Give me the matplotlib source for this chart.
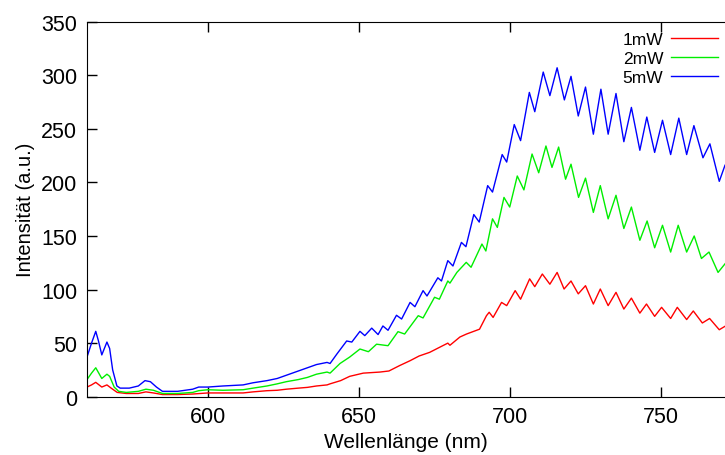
import matplotlib
matplotlib.use("Agg")
import matplotlib.pyplot as plt

plt.rcParams['font.family'] = ['Liberation Sans', 'DejaVu Sans']

# Spektren (Wellenlaenge in nm, Intensitaet in a.u.)
wl_5mw = [560, 561.5, 562.9, 563.8, 564.9, 566.6, 567.5, 568.5, 569.9, 571, 574, 577, 579.2, 581, 583,
          585, 590, 595, 597, 600, 605, 611.7, 615, 619.6, 623, 626, 630, 633, 636, 639.5, 640.5,
          642.8, 646, 647.7, 650.4, 652, 654.3, 656.4, 658, 659.7, 662.5, 664.2, 667, 668.6, 671.3,
          672.6, 676.2, 677.4, 679.5, 681.2, 684, 685.5, 688.1, 689.9, 692.7, 694.3, 697.5, 699,
          701.5, 703.6, 706.5, 708.3, 711.1, 713.3, 715.7, 718.1, 720.3, 722.7, 725.1, 727.7, 730.2,
          732.6, 735.2, 737.8, 740.3, 743.1, 745.4, 748, 750.6, 753.3, 756, 758.6, 761, 764, 766.3,
          769.4, 771.3]
int_5mw = [37, 50, 61, 52, 39, 51, 45, 25, 10, 8, 8, 10, 15, 14, 9,
           5, 5, 7, 9, 9, 10, 11, 13, 15, 17, 20, 24, 27, 30, 32, 31,
           40, 52, 51, 61, 57, 64, 58, 66, 62, 76, 72.5, 88, 84, 99,
           94, 111, 108, 127, 122, 144, 140, 170, 163, 197, 191, 226, 219,
           254, 239, 284, 266, 303, 281, 307, 277, 299, 262, 289, 245, 287,
           245, 283, 238, 270, 230, 261, 228, 258, 226, 260, 226, 253, 223, 236,
           201, 216]

wl_2mw = [560, 561.5, 562.9, 564.9, 566.6, 567.5, 569, 570.5, 573, 577, 579.5, 582, 585, 590, 595,
          597, 600, 605, 611.7, 615, 619.6, 623, 626, 630, 633, 636, 639.5, 640.5, 643.8, 647,
          650.4, 653.2, 655.9, 659.7, 663, 665.2, 669.7, 671.3, 675.1, 676.7, 679.5, 680.2, 682.5,
          685.6, 687.2, 690.8, 692.1, 694.3, 695.9, 698.1, 700, 702.5, 704.7, 707.4, 709.6, 712,
          714, 716.2, 718.5, 720.3, 722.8, 725.1, 727.7, 730, 732.6, 735.2, 737.8, 740.3, 743.1,
          745.5, 748, 750.6, 753.3, 755.8, 758.6, 761.1, 763.5, 766, 769, 771.3]
int_2mw = [16, 22, 27, 17, 21, 19, 9, 5, 4, 5, 7, 6, 3, 3, 4,
           5.6, 6.5, 6, 6.5, 8, 10, 12, 14, 16, 18, 21, 23, 22, 31, 37,
           44.5, 42, 49, 47.6, 60.7, 58.5, 75.6, 73.5, 92.8, 91, 108, 106, 116,
           125.4, 120.8, 142.5, 136, 166, 158, 186, 177, 206, 193, 226.5, 209, 234,
           214, 233, 203, 217, 186, 204, 172, 197, 166, 188, 157, 177, 146,
           164, 139, 160, 135, 160, 135, 150, 129, 135, 116, 124]

wl_1mw = [560, 561.5, 562.9, 564.9, 566.6, 568, 570, 573, 577, 579.5, 582, 585, 590, 595, 600,
          605, 611.7, 615, 619.6, 623, 626, 630, 633, 636, 639.5, 640.5, 644, 647, 651.5, 657,
          660, 663.5, 667, 670, 673.5, 676.7, 679.5, 680.2, 683.5, 685.7, 690, 692.3, 693.2,
          694.5, 697.3, 699, 701.8, 703.6, 706.6, 708.3, 710.8, 713.3, 715.7, 718, 720.3, 722.7,
          725.1, 727.7, 730, 732.6, 735.2, 737.8, 740.3, 743.1, 745.3, 748, 750.3, 753.3, 755.5,
          758.6, 760.8, 763.8, 766.2, 769.4, 771.3]
int_1mw = [9, 11, 13.4, 9, 11, 8, 4, 3, 3, 4.5, 3.5, 2, 2, 2.5, 3.5,
           3.5, 3.5, 4.5, 5.6, 6, 7, 8, 8.7, 10, 11, 12, 15, 19, 22, 23,
           24, 29, 33.6, 38, 41.4, 46, 50, 48, 55.7, 58.5, 63, 75.6, 78.8,
           74, 88, 85, 99, 91, 110, 102.7, 114.5, 105, 116, 100.5, 108, 96,
           103.6, 86.5, 100.5, 85, 97.4, 81.8, 92, 78, 86.5, 75, 83.4, 73, 83.4,
           72, 80, 68.8, 73, 62.5, 65.7]

x_ticks = [600, 650, 700, 750]
y_ticks = [0, 50, 100, 150, 200, 250, 300, 350]

fig = plt.figure(figsize=(7.25, 4.56), dpi=100)
ax = fig.add_axes([87 / 725, 58.3 / 456, 638 / 725, 375 / 456])

ax.plot(wl_1mw, int_1mw, color='#ff0000', lw=1, label='1mW')
ax.plot(wl_2mw, int_2mw, color='#00ee00', lw=1, label='2mW')
ax.plot(wl_5mw, int_5mw, color='#0000ff', lw=1, label='5mW')

ax.set_xlim(560, 771.3)
ax.set_ylim(0, 350)
ax.set_xticks(x_ticks)
ax.set_yticks(y_ticks)
ax.tick_params(direction='in', length=7, width=1, labelsize=15.5, pad=7,
               top=True, right=False)
ax.spines['right'].set_visible(False)

ax.set_xlabel('Wellenlänge (nm)', fontsize=15, labelpad=3)
ax.set_ylabel('Intensität (a.u.)', fontsize=14.5, labelpad=4)

ax.legend(loc='upper right', bbox_to_anchor=(718 / 725, 1 - 33 / 456),
          bbox_transform=fig.transFigure, frameon=False, markerfirst=False,
          fontsize=12.5, handlelength=2.7, handletextpad=0.45, labelspacing=0.22,
          borderaxespad=0, borderpad=0)

fig.savefig('out.png', dpi=100)
